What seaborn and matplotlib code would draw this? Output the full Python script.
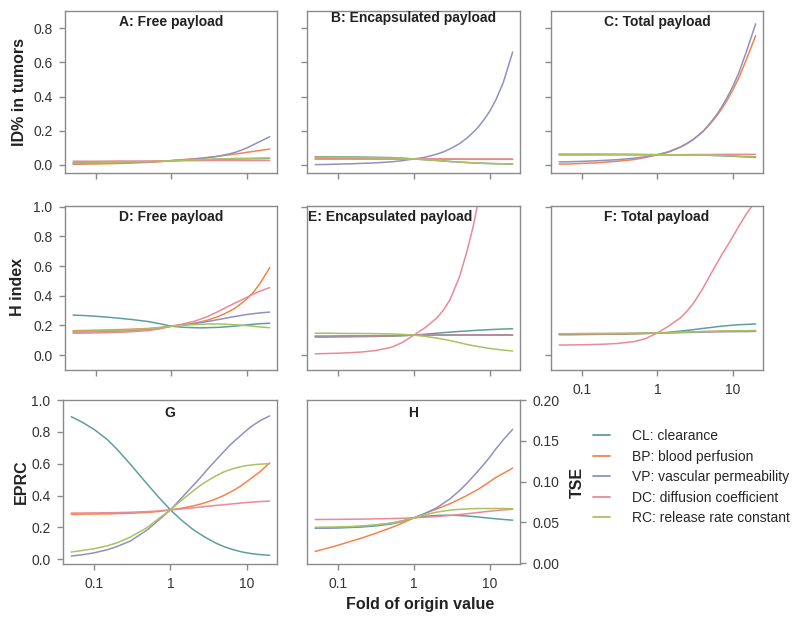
import numpy as np
import pandas as pd
import matplotlib.pyplot as plt
import seaborn as sns
from matplotlib.lines import Line2D

# fold change of the original parameter value (x axis, log scale)
fold = [0.05, 0.07, 0.1, 0.15, 0.2, 0.3, 0.5, 0.7, 1, 1.4, 2, 2.5, 3, 4, 5, 6, 7, 8.5, 10, 12, 15, 20]

params = ['CL', 'BP', 'VP', 'DC', 'RC']
param_labels = ['CL: clearance', 'BP: blood perfusion', 'VP: vascular permeability',
                'DC: diffusion coefficient', 'RC: release rate constant']
colors = ['#5f9e9f', '#f4844c', '#9191c1', '#e98a96', '#a8c35f']

# A: ID% in tumors, free payload
free_id = {
    'CL': [0.012, 0.013, 0.014, 0.0155, 0.017, 0.018, 0.020, 0.022, 0.025, 0.027, 0.029, 0.030, 0.031, 0.0325, 0.034, 0.0345, 0.035, 0.0355, 0.036, 0.0365, 0.037, 0.038],
    'BP': [0.004, 0.005, 0.006, 0.0075, 0.009, 0.011, 0.015, 0.019, 0.025, 0.031, 0.036, 0.040, 0.044, 0.050, 0.056, 0.060, 0.064, 0.069, 0.074, 0.079, 0.085, 0.093],
    'VP': [0.008, 0.009, 0.010, 0.0115, 0.013, 0.015, 0.018, 0.021, 0.025, 0.029, 0.034, 0.038, 0.042, 0.050, 0.058, 0.066, 0.074, 0.087, 0.100, 0.117, 0.138, 0.165],
    'DC': [0.022, 0.022, 0.022, 0.0225, 0.023, 0.023, 0.023, 0.024, 0.025, 0.025, 0.025, 0.0255, 0.026, 0.026, 0.026, 0.026, 0.026, 0.026, 0.026, 0.026, 0.026, 0.026],
    'RC': [0.010, 0.011, 0.012, 0.0135, 0.015, 0.017, 0.019, 0.022, 0.025, 0.028, 0.030, 0.0315, 0.033, 0.0345, 0.036, 0.037, 0.038, 0.0385, 0.039, 0.0395, 0.040, 0.041],
}
# B: ID% in tumors, encapsulated payload
enc_id = {
    'CL': [0.048, 0.0475, 0.047, 0.0465, 0.046, 0.045, 0.043, 0.040, 0.035, 0.0305, 0.026, 0.023, 0.020, 0.0165, 0.014, 0.012, 0.011, 0.0095, 0.0085, 0.0075, 0.0067, 0.006],
    'BP': [0.038, 0.038, 0.038, 0.0375, 0.037, 0.037, 0.036, 0.036, 0.035, 0.0345, 0.034, 0.034, 0.0335, 0.0335, 0.033, 0.033, 0.033, 0.033, 0.033, 0.033, 0.033, 0.033],
    'VP': [0.002, 0.003, 0.005, 0.007, 0.009, 0.012, 0.018, 0.025, 0.035, 0.045, 0.063, 0.078, 0.094, 0.125, 0.157, 0.190, 0.220, 0.268, 0.315, 0.380, 0.480, 0.660],
    'DC': [0.034, 0.034, 0.034, 0.034, 0.034, 0.034, 0.034, 0.034, 0.035, 0.035, 0.035, 0.035, 0.035, 0.035, 0.035, 0.035, 0.035, 0.035, 0.035, 0.035, 0.035, 0.035],
    'RC': [0.045, 0.0447, 0.0443, 0.0437, 0.043, 0.042, 0.041, 0.039, 0.035, 0.031, 0.0265, 0.0235, 0.0205, 0.017, 0.0145, 0.0125, 0.0112, 0.0098, 0.0088, 0.0078, 0.0068, 0.006],
}
# C: ID% in tumors, total payload
tot_id = {
    'CL': [0.062, 0.062, 0.062, 0.062, 0.062, 0.0615, 0.061, 0.0605, 0.060, 0.0595, 0.059, 0.0585, 0.058, 0.057, 0.056, 0.055, 0.054, 0.0525, 0.051, 0.049, 0.047, 0.045],
    'BP': [0.005, 0.006, 0.009, 0.012, 0.016, 0.022, 0.032, 0.044, 0.060, 0.077, 0.105, 0.127, 0.150, 0.195, 0.240, 0.283, 0.323, 0.383, 0.440, 0.510, 0.615, 0.756],
    'VP': [0.018, 0.019, 0.021, 0.024, 0.027, 0.031, 0.040, 0.048, 0.060, 0.075, 0.103, 0.127, 0.150, 0.195, 0.245, 0.290, 0.335, 0.400, 0.460, 0.540, 0.660, 0.825],
    'DC': [0.058, 0.058, 0.058, 0.0585, 0.059, 0.059, 0.059, 0.0595, 0.060, 0.060, 0.060, 0.0605, 0.061, 0.061, 0.061, 0.0615, 0.0615, 0.062, 0.062, 0.062, 0.062, 0.062],
    'RC': [0.063, 0.063, 0.063, 0.063, 0.063, 0.0625, 0.062, 0.061, 0.060, 0.0595, 0.059, 0.0585, 0.058, 0.0575, 0.057, 0.056, 0.0555, 0.054, 0.053, 0.0515, 0.050, 0.048],
}
# D: H index, free payload
free_h = {
    'CL': [0.270, 0.267, 0.262, 0.255, 0.249, 0.240, 0.226, 0.212, 0.195, 0.188, 0.185, 0.184, 0.185, 0.187, 0.190, 0.193, 0.196, 0.200, 0.204, 0.208, 0.212, 0.215],
    'BP': [0.165, 0.166, 0.168, 0.170, 0.172, 0.175, 0.180, 0.186, 0.195, 0.203, 0.215, 0.225, 0.236, 0.257, 0.278, 0.298, 0.318, 0.350, 0.380, 0.420, 0.485, 0.590],
    'VP': [0.155, 0.156, 0.158, 0.160, 0.162, 0.166, 0.173, 0.182, 0.195, 0.203, 0.213, 0.220, 0.227, 0.238, 0.247, 0.255, 0.261, 0.268, 0.274, 0.279, 0.285, 0.290],
    'DC': [0.148, 0.149, 0.150, 0.152, 0.154, 0.158, 0.166, 0.177, 0.195, 0.210, 0.228, 0.245, 0.260, 0.290, 0.315, 0.335, 0.352, 0.372, 0.390, 0.410, 0.432, 0.455],
    'RC': [0.160, 0.161, 0.163, 0.165, 0.167, 0.171, 0.178, 0.186, 0.195, 0.201, 0.206, 0.208, 0.210, 0.210, 0.209, 0.207, 0.205, 0.202, 0.199, 0.195, 0.190, 0.185],
}
# E: H index, encapsulated payload
enc_h = {
    'CL': [0.122, 0.122, 0.123, 0.124, 0.125, 0.126, 0.128, 0.131, 0.135, 0.141, 0.148, 0.152, 0.155, 0.160, 0.163, 0.166, 0.168, 0.170, 0.172, 0.174, 0.176, 0.178],
    'BP': [0.127, 0.127, 0.128, 0.129, 0.129, 0.130, 0.131, 0.133, 0.135, 0.136, 0.136, 0.136, 0.137, 0.137, 0.137, 0.137, 0.137, 0.137, 0.137, 0.137, 0.137, 0.137],
    'VP': [0.128, 0.128, 0.129, 0.130, 0.130, 0.131, 0.132, 0.133, 0.135, 0.135, 0.135, 0.135, 0.135, 0.135, 0.135, 0.135, 0.135, 0.135, 0.135, 0.135, 0.135, 0.135],
    'DC': [0.009, 0.011, 0.013, 0.017, 0.021, 0.030, 0.052, 0.085, 0.135, 0.185, 0.250, 0.310, 0.375, 0.530, 0.700, 0.860, 1.030, 1.300, 1.600, 1.950, 2.400, 3.200],
    'RC': [0.148, 0.148, 0.147, 0.146, 0.146, 0.145, 0.143, 0.140, 0.135, 0.127, 0.115, 0.106, 0.098, 0.084, 0.072, 0.064, 0.058, 0.051, 0.045, 0.040, 0.034, 0.028],
}
# F: H index, total payload
tot_h = {
    'CL': [0.138, 0.138, 0.139, 0.140, 0.141, 0.142, 0.144, 0.146, 0.148, 0.154, 0.162, 0.167, 0.172, 0.180, 0.186, 0.191, 0.195, 0.199, 0.202, 0.205, 0.207, 0.210],
    'BP': [0.140, 0.140, 0.141, 0.142, 0.142, 0.143, 0.145, 0.147, 0.149, 0.151, 0.154, 0.155, 0.157, 0.159, 0.160, 0.161, 0.162, 0.163, 0.163, 0.164, 0.164, 0.165],
    'VP': [0.143, 0.143, 0.144, 0.145, 0.145, 0.146, 0.147, 0.148, 0.149, 0.150, 0.152, 0.153, 0.154, 0.155, 0.156, 0.157, 0.157, 0.158, 0.158, 0.159, 0.159, 0.160],
    'DC': [0.068, 0.069, 0.070, 0.072, 0.074, 0.079, 0.092, 0.112, 0.150, 0.195, 0.250, 0.300, 0.350, 0.450, 0.540, 0.610, 0.670, 0.740, 0.800, 0.870, 0.950, 1.040],
    'RC': [0.145, 0.145, 0.146, 0.146, 0.146, 0.147, 0.148, 0.149, 0.150, 0.151, 0.154, 0.155, 0.157, 0.159, 0.160, 0.161, 0.162, 0.163, 0.164, 0.165, 0.165, 0.166],
}
# G: EPRC
eprc = {
    'CL': [0.895, 0.860, 0.815, 0.750, 0.690, 0.595, 0.470, 0.390, 0.310, 0.245, 0.185, 0.155, 0.132, 0.100, 0.080, 0.067, 0.057, 0.047, 0.040, 0.034, 0.029, 0.025],
    'BP': [0.282, 0.283, 0.284, 0.285, 0.287, 0.289, 0.294, 0.300, 0.310, 0.320, 0.335, 0.347, 0.358, 0.380, 0.400, 0.420, 0.437, 0.462, 0.487, 0.515, 0.550, 0.605],
    'VP': [0.020, 0.028, 0.040, 0.060, 0.080, 0.115, 0.185, 0.245, 0.310, 0.385, 0.465, 0.515, 0.560, 0.625, 0.675, 0.715, 0.745, 0.780, 0.810, 0.840, 0.870, 0.900],
    'DC': [0.290, 0.290, 0.291, 0.292, 0.293, 0.295, 0.299, 0.303, 0.310, 0.316, 0.323, 0.328, 0.332, 0.338, 0.342, 0.346, 0.349, 0.353, 0.356, 0.359, 0.362, 0.365],
    'RC': [0.045, 0.055, 0.066, 0.085, 0.103, 0.140, 0.200, 0.255, 0.310, 0.370, 0.430, 0.465, 0.490, 0.525, 0.548, 0.562, 0.572, 0.582, 0.588, 0.593, 0.597, 0.600],
}
# H: TSE
tse = {
    'CL': [0.0428, 0.0430, 0.0433, 0.0438, 0.0443, 0.0455, 0.0480, 0.0510, 0.0556, 0.0575, 0.0585, 0.0588, 0.0588, 0.0584, 0.0578, 0.0572, 0.0566, 0.0558, 0.0551, 0.0544, 0.0536, 0.0527],
    'BP': [0.0144, 0.0180, 0.0220, 0.0270, 0.0305, 0.0360, 0.0435, 0.0490, 0.0556, 0.0610, 0.0665, 0.0700, 0.0730, 0.0785, 0.0830, 0.0870, 0.0905, 0.0955, 0.1000, 0.1050, 0.1100, 0.1165],
    'VP': [0.0430, 0.0430, 0.0435, 0.0443, 0.0450, 0.0465, 0.0490, 0.0520, 0.0556, 0.0610, 0.0680, 0.0740, 0.0790, 0.0890, 0.0980, 0.1060, 0.1130, 0.1220, 0.1300, 0.1400, 0.1510, 0.1640],
    'DC': [0.0535, 0.0536, 0.0537, 0.0539, 0.0540, 0.0543, 0.0547, 0.0551, 0.0556, 0.0563, 0.0572, 0.0579, 0.0585, 0.0596, 0.0606, 0.0614, 0.0621, 0.0630, 0.0637, 0.0645, 0.0653, 0.0660],
    'RC': [0.0440, 0.0442, 0.0445, 0.0450, 0.0456, 0.0468, 0.0490, 0.0515, 0.0556, 0.0595, 0.0625, 0.0640, 0.0650, 0.0660, 0.0665, 0.0668, 0.0670, 0.0670, 0.0670, 0.0670, 0.0670, 0.0668],
}

sns.set_theme(style='ticks')
plt.rcParams['font.family'] = ['Liberation Sans', 'DejaVu Sans']

W, H = 800, 622
fig = plt.figure(figsize=(8, 6.22), dpi=100)
palette = dict(zip(params, colors))
spine_col = '#8a8a8a'


def make_ax(x0, y0, w, h):
    # pixel box (left, top, width, height) -> figure coords
    return fig.add_axes([x0 / W, 1 - (y0 + h) / H, w / W, h / H])


def draw(ax, panel, ylim, title, title_x=0.5, title_y=0.935):
    df = pd.DataFrame(panel, index=fold)
    df.index.name = 'fold'
    long = df.reset_index().melt(id_vars='fold', var_name='param', value_name='value')
    sns.lineplot(data=long, x='fold', y='value', hue='param', hue_order=params,
                 palette=palette, ax=ax, legend=False, linewidth=1.1, estimator=None)
    ax.set_xscale('log')
    ax.set_xlim(0.039, 25)
    ax.set_ylim(*ylim)
    ax.set_xticks([0.1, 1, 10])
    ax.set_xticklabels(['0.1', '1', '10'])
    ax.minorticks_off()
    ax.set_xlabel('')
    ax.set_ylabel('')
    for s in ax.spines.values():
        s.set_visible(True)
        s.set_color(spine_col)
        s.set_linewidth(1.0)
    ax.tick_params(direction='out', length=4, width=1, color=spine_col,
                   labelsize=10, labelcolor='#333333', pad=5)
    ax.text(title_x, title_y, title, transform=ax.transAxes, ha='center', va='center',
            fontsize=10, fontweight='bold', color='#222222')


row1 = (-0.047, 0.9)
row2 = (-0.1, 1.005)
yt1 = [0, 0.2, 0.4, 0.6, 0.8]
yt2 = [0, 0.2, 0.4, 0.6, 0.8, 1.0]

axA = make_ax(65, 11, 212, 162)
draw(axA, free_id, row1, 'A: Free payload', title_y=0.93)
axB = make_ax(307, 11, 213, 162)
draw(axB, enc_id, row1, 'B: Encapsulated payload', title_y=0.955)
axC = make_ax(551, 11, 212, 162)
draw(axC, tot_id, row1, 'C: Total payload', title_y=0.93)
for ax in (axA, axB, axC):
    ax.set_yticks(yt1)
    ax.set_yticklabels(['0.0', '0.2', '0.4', '0.6', '0.8'] if ax is axA else [])
    ax.tick_params(labelbottom=False)

axD = make_ax(65, 206, 212, 164)
draw(axD, free_h, row2, 'D: Free payload')
axE = make_ax(307, 206, 213, 164)
draw(axE, enc_h, row2, 'E: Encapsulated payload', title_x=0.39)
axF = make_ax(551, 206, 212, 164)
draw(axF, tot_h, row2, 'F: Total payload')
axD.set_yticks(yt2)
axD.set_yticklabels(['0.0', '0.2', '0.4', '0.6', '0.8', '1.0'])
for ax in (axE, axF):
    ax.set_yticks([0, 1.0])
    ax.set_yticklabels([])
for ax in (axD, axE):
    ax.tick_params(labelbottom=False)

axG = make_ax(63, 400, 214, 164)
draw(axG, eprc, (-0.03, 1.0), 'G', title_y=0.92)
axG.set_yticks(yt2)
axG.set_yticklabels(['0.0', '0.2', '0.4', '0.6', '0.8', '1.0'])

axH = make_ax(307, 400, 213, 164)
draw(axH, tse, (-0.001, 0.2), 'H', title_y=0.92)
axH.set_yticks([0, 0.05, 0.10, 0.15, 0.20])
axH.set_yticklabels(['0.00', '0.05', '0.10', '0.15', '0.20'])
axH.tick_params(axis='y', left=False, labelleft=False, right=True, labelright=True)

lab_kw = dict(fontsize=11.5, fontweight='bold', color='#222222', ha='center', va='center')
fig.text(20 / W, 1 - 92 / H, 'ID% in tumors', rotation=90, **lab_kw)
fig.text(17 / W, 1 - 287 / H, 'H index', rotation=90, **lab_kw)
fig.text(21 / W, 1 - 482 / H, 'EPRC', rotation=90, **lab_kw)
fig.text(577 / W, 1 - 482 / H, 'TSE', rotation=90, **lab_kw)
fig.text(420 / W, 1 - 605 / H, 'Fold of origin value', **lab_kw)

handles = [Line2D([], [], color=c, lw=1.3) for c in colors]
fig.legend(handles, param_labels, loc='upper left', bbox_to_anchor=(593 / W, 1 - 429 / H),
           frameon=False, fontsize=10, handlelength=1.2, handletextpad=1.58,
           labelspacing=0.47, borderaxespad=0, borderpad=0)

fig.savefig('out.png', dpi=100)
